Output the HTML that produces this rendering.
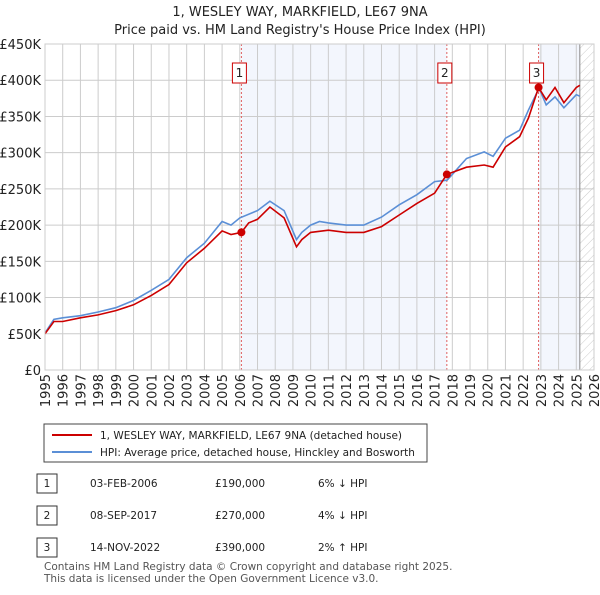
<!DOCTYPE html>
<html><head><meta charset="utf-8"><style>
body{margin:0;background:#fff;font-family:"Liberation Sans",sans-serif;}
svg text{font-family:"DejaVu Sans","Liberation Sans",sans-serif;}
</style></head><body>
<svg id="c" width="600" height="590" xmlns="http://www.w3.org/2000/svg">
<defs><pattern id="hatch" width="6" height="6" patternUnits="userSpaceOnUse" patternTransform="rotate(45)"><line x1="0" y1="0" x2="0" y2="6" stroke="#ccc" stroke-width="1"/></pattern></defs>
<text x="300" y="16" text-anchor="middle" font-size="13" fill="#222">1, WESLEY WAY, MARKFIELD, LE67 9NA</text>
<text x="300" y="34" text-anchor="middle" font-size="13" fill="#222">Price paid vs. HM Land Registry's House Price Index (HPI)</text>
<g id="plot"></g>
<g>
<rect x="44" y="424" width="383" height="38" fill="#fff" stroke="#444"/>
<line x1="52" y1="435" x2="92" y2="435" stroke="#cc0000" stroke-width="2"/>
<text x="100" y="439" font-size="10.5" fill="#222">1, WESLEY WAY, MARKFIELD, LE67 9NA (detached house)</text>
<line x1="52" y1="452" x2="92" y2="452" stroke="#5b8fd6" stroke-width="2"/>
<text x="100" y="456" font-size="10.5" fill="#222">HPI: Average price, detached house, Hinckley and Bosworth</text>
</g>
<g id="tbl" font-size="10.5" fill="#222"></g>
<text x="44" y="570" font-size="10.5" fill="#555">Contains HM Land Registry data © Crown copyright and database right 2025.</text>
<text x="44" y="582" font-size="10.5" fill="#555">This data is licensed under the Open Government Licence v3.0.</text>
</svg>
<script>
const hpiYears=[1995,1995.5,1996,1997,1998,1999,2000,2001,2002,2003,2004,2005,2005.5,2006,2007,2007.7,2008.5,2009.2,2009.5,2010,2010.5,2011,2012,2013,2014,2015,2016,2017,2017.7,2018,2018.8,2019.8,2020.3,2021,2021.8,2022.3,2022.9,2023.3,2023.8,2024.3,2025,2025.2];
const hpiValues=[51,70,72,75,80,86,96,110,125,155,175,205,200,210,220,233,220,180,190,200,205,203,200,200,211,228,242,260,262,270,292,301,295,320,331,359,389,366,377,362,380,378];
const propYears=[1995,1995.5,1996,1997,1998,1999,2000,2001,2002,2003,2004,2005,2005.5,2006.09,2006.5,2007,2007.7,2008.5,2009.2,2009.5,2010,2011,2012,2013,2014,2015,2016,2017,2017.69,2018.8,2019.8,2020.3,2021,2021.8,2022.3,2022.87,2023.3,2023.8,2024.3,2025,2025.2];
const propValues=[50,67,67,72,76,82,90,103,118,148,168,192,187,190,203,208,225,210,170,180,190,193,190,190,198,214,230,244,270,280,283,280,308,322,348,390,373,390,369,390,393];
const saleYears=[2006.09,2017.69,2022.87];
const saleValues=[190,270,390];
const saleLabels=["1","2","3"];
const saleDates=["03-FEB-2006","08-SEP-2017","14-NOV-2022"];
const salePrices=["£190,000","£270,000","£390,000"];
const saleHpi=["6% ↓ HPI","4% ↓ HPI","2% ↑ HPI"];
const yTicks=[0,50,100,150,200,250,300,350,400,450];
const yTickLabels=["£0","£50K","£100K","£150K","£200K","£250K","£300K","£350K","£400K","£450K"];
const xTicks=[];for(let y=1995;y<=2026;y++)xTicks.push(y);

const L=45,R=594,T=44,B=370,X0=1995,X1=2026,Y1=450;
const sx=v=>L+(v-X0)/(X1-X0)*(R-L);
const sy=v=>B-v/Y1*(B-T);
const NS="http://www.w3.org/2000/svg";
const plot=document.getElementById('plot');
function mk(tag,attrs,parent){const e=document.createElementNS(NS,tag);for(const k in attrs)e.setAttribute(k,attrs[k]);(parent||plot).appendChild(e);return e;}

let r=mk('rect',{x:sx(saleYears[0]),y:T,width:sx(saleYears[1])-sx(saleYears[0]),height:B-T,fill:'#eef2fc',opacity:0.7});


r=mk('rect',{x:sx(saleYears[2]),y:T,width:sx(2025.2)-sx(saleYears[2]),height:B-T,fill:'#eef2fc',opacity:0.7});


r=mk('rect',{x:sx(2025.2),y:T,width:R-sx(2025.2),height:B-T,fill:'url(#hatch)'});



yTicks.forEach((v,i)=>{
 const g=mk('line',{x1:L,x2:R,y1:sy(v),y2:sy(v),stroke:'#ccc'});
 
 
 const t=mk('text',{x:L-4,y:sy(v)+5,'text-anchor':'end','font-size':13,fill:'#222'});
 t.textContent=yTickLabels[i];
 
 
});
xTicks.forEach(v=>{
 const g=mk('line',{x1:sx(v),x2:sx(v),y1:T,y2:B,stroke:'#ccc'});
 
 
 const t=mk('text',{x:0,y:0,'text-anchor':'end','font-size':13,fill:'#222',transform:`translate(${sx(v)+5},${B+4}) rotate(-90)`});
 t.textContent=v;
 
 
});
let ln=mk('line',{x1:sx(2025.2),x2:sx(2025.2),y1:T,y2:B,stroke:'#888','stroke-width':1});



saleYears.forEach((v,i)=>{
 const l=mk('line',{x1:sx(v),x2:sx(v),y1:T,y2:B,stroke:'#e06060','stroke-dasharray':'2,2'});
 
 
});
const path=(xs,vs)=>xs.map((x,i)=>(i?'L':'M')+sx(x).toFixed(1)+','+sy(vs[i]).toFixed(1)).join('');
let p=mk('path',{d:path(hpiYears,hpiValues),fill:'none',stroke:'#5b8fd6','stroke-width':1.6});


p=mk('path',{d:path(propYears,propValues),fill:'none',stroke:'#cc0000','stroke-width':1.6});


saleYears.forEach((v,i)=>{
 const c=mk('circle',{cx:sx(v),cy:sy(saleValues[i]),r:4,fill:'#cc0000'});
 
 
 const bx=mk('rect',{x:sx(v)-9,y:63,width:14,height:20,fill:'#fff',stroke:'#cc0000'});
 
 
 const t=mk('text',{x:sx(v)-2,y:77,'text-anchor':'middle','font-size':12,fill:'#222'});
 t.textContent=saleLabels[i];
 
 
});
let ax=mk('rect',{x:L,y:T,width:R-L,height:B-T,fill:'none',stroke:'#ccc'});



const tbl=document.getElementById('tbl');
saleLabels.forEach((s,i)=>{
 const y=483+i*32;
 const b=mk('rect',{x:37,y:y-9,width:20,height:19,fill:'#fff',stroke:'#333'},tbl);
 
 
 const cells=[[47,s,'middle'],[90,saleDates[i],'start'],[215,salePrices[i],'start'],[318,saleHpi[i],'start']];
 cells.forEach(c=>{
  const t=mk('text',{x:c[0],y:y+4,'text-anchor':c[2]},tbl);
  t.textContent=c[1];
  
  
 });
});
</script>
</body></html>
